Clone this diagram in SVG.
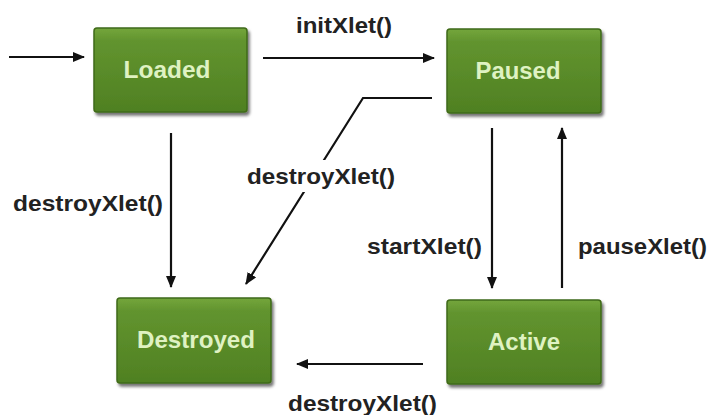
<svg xmlns="http://www.w3.org/2000/svg" width="711" height="415" viewBox="0 0 711 415">
  <defs>
    <linearGradient id="g" x1="0" y1="0" x2="0" y2="1">
      <stop offset="0" stop-color="#74a63c"/>
      <stop offset="0.15" stop-color="#62942f"/>
      <stop offset="1" stop-color="#4f8022"/>
    </linearGradient>
    <filter id="sh" x="-10%" y="-10%" width="130%" height="140%">
      <feDropShadow dx="2" dy="3" stdDeviation="1.8" flood-color="#000" flood-opacity="0.55"/>
    </filter>
    <marker id="ah" viewBox="0 0 12 10" refX="11" refY="5" markerWidth="12" markerHeight="10" markerUnits="userSpaceOnUse" orient="auto">
      <path d="M0,0 L12,5 L0,10 z" fill="#111"/>
    </marker>
  </defs>
  <style>
    .box { fill: url(#g); stroke: #3f6a18; stroke-width: 1.5; filter: url(#sh); }
    .nl { font-family: "Liberation Sans", Arial, sans-serif; font-weight: bold; font-size: 23px; fill: #dff2c2; text-anchor: middle; }
    .el { font-family: "Liberation Sans", Arial, sans-serif; font-weight: bold; font-size: 22px; fill: #222; }
    .ln { fill: none; stroke: #111; stroke-width: 2.2; marker-end: url(#ah); }
  </style>
  <rect width="711" height="415" fill="#fff"/>

  <g id="connectors">
    <line class="ln" x1="9" y1="57" x2="84" y2="57"/>
    <line class="ln" x1="263" y1="58" x2="434" y2="58"/>
    <text class="el" x="296" y="33" textLength="96" lengthAdjust="spacingAndGlyphs">initXlet()</text>
    <line class="ln" x1="171" y1="133" x2="171" y2="287"/>
    <text class="el" x="13" y="211" textLength="150" lengthAdjust="spacingAndGlyphs">destroyXlet()</text>
    <polyline class="ln" points="432,98 363,98 246,284"/>
    <rect x="244" y="160" width="154" height="32" fill="#fff"/>
    <text class="el" x="247" y="184" textLength="148" lengthAdjust="spacingAndGlyphs">destroyXlet()</text>
    <line class="ln" x1="492" y1="128" x2="492" y2="288"/>
    <text class="el" x="367" y="254" textLength="115" lengthAdjust="spacingAndGlyphs">startXlet()</text>
    <line class="ln" x1="562" y1="288" x2="562" y2="128"/>
    <text class="el" x="578" y="254" textLength="129" lengthAdjust="spacingAndGlyphs">pauseXlet()</text>
    <line class="ln" x1="423" y1="364" x2="297" y2="364"/>
    <text class="el" x="288" y="411" textLength="149" lengthAdjust="spacingAndGlyphs">destroyXlet()</text>
  </g>

  <g id="loaded">
    <rect class="box" x="94" y="28" width="153" height="84" rx="3"/>
    <text class="nl" x="167" y="78" textLength="87" lengthAdjust="spacingAndGlyphs">Loaded</text>
  </g>
  <g id="paused">
    <rect class="box" x="447" y="29" width="154" height="84" rx="3"/>
    <text class="nl" x="518" y="79" textLength="85" lengthAdjust="spacingAndGlyphs">Paused</text>
  </g>
  <g id="destroyed">
    <rect class="box" x="117" y="298" width="154" height="85" rx="3"/>
    <text class="nl" x="196" y="348" textLength="118" lengthAdjust="spacingAndGlyphs">Destroyed</text>
  </g>
  <g id="active">
    <rect class="box" x="447" y="300" width="154" height="84" rx="3"/>
    <text class="nl" x="524" y="350" textLength="72" lengthAdjust="spacingAndGlyphs">Active</text>
  </g>
</svg>
